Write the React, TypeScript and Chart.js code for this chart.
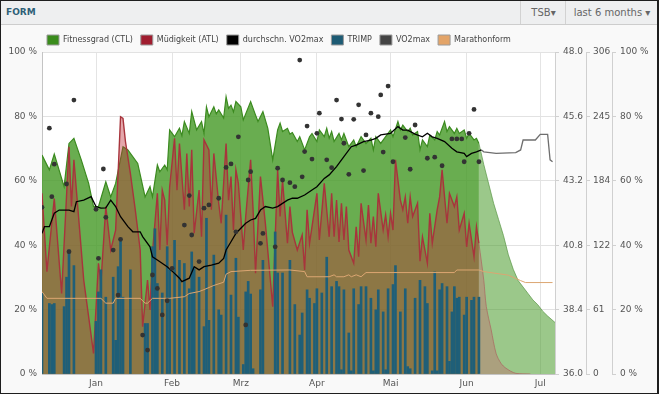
import React, { useEffect, useRef } from 'react';
import { Chart, registerables } from 'chart.js';

Chart.register(...registerables);

// x values are day offsets from 10 Dec (day 0)
const xMaxDay = 209;
const monthTickDays = [22, 53, 81, 112, 142, 173, 203];
const monthLabels = ['Jan', 'Feb', 'Mrz', 'Apr', 'Mai', 'Jun', 'Jul'];
const percentTicks = [0, 20, 40, 60, 80, 100];
const vo2Ticks = [36.0, 38.4, 40.8, 43.2, 45.6, 48.0];
const trimpTicks = [0, 61.2, 122.4, 183.6, 244.8, 306];

const legendNames = ['Fitnessgrad (CTL)', 'Müdigkeit (ATL)', 'durchschn. VO2max', 'TRIMP', 'VO2max', 'Marathonform'];
const legendColors = ['#3a8c1c', '#a01d2f', '#000000', '#1d5b74', '#444444', '#e3a468'];

const ctlDays = [0,3,5,9,11,13,16,19,21,23,26,28,30,33,35,39,42,44,45,47,48,50,51,52,54,56,57,58,60,61,63,65,66,67,68,70,71,72,74,75,76,77,78,79,81,82,85,87,88,90,92,94,96,97,98,100,101,102,104,105,107,109,110,112,113,115,116,117,118,119,121,122,123,125,127,128,130,132,134,135,136,138,140,142,143,145,146,147,149,150,151,153,154,155,157,158,160,161,162,164,165,166,168,169,170,172,173,174,176,177,178];
const ctlValues = [68,63.4,68.3,58.2,71.6,73.2,66.5,59.2,52,52,59.7,55,59.2,70.6,69.6,65.4,55,58.2,55,64.9,62.8,64.9,63.4,75.8,73.7,76.3,74,78.4,74.7,81.5,75.8,78.4,74.7,83,79.9,83,80.8,82,79.5,86.1,82.5,83.5,81.4,84.6,83,78.9,84.6,80.4,78.4,81.5,76.3,66.5,75.8,77.9,75.3,76.3,74.5,75,72.2,73.7,69.6,73.7,74.7,72.2,75.8,73.7,76.3,73.2,75.3,72.2,74.7,72.7,74.7,70.6,72.7,70.6,73.7,71.6,73.2,69.6,73.7,71.6,73.7,75.8,73.7,78.4,75.8,77.3,75.3,76.3,74.2,75.3,69.6,72.7,70.6,74.2,72.7,75.3,74.2,78.4,75.3,76.8,74.7,76.3,74.7,75.8,73.2,74.7,72.7,73.2,71.6];

const ctlProjDays = [178,180,182,184,186,188,190,192,194,196,198,200,202,204,206,209];
const ctlProjValues = [71.6,65,59,53,48,43,37,32.5,29,27,25,23,21.5,19.5,18,16];

const atlDays = [0,2,5,8,11,12,13,17,21,23,24,26,28,30,32,33,34,36,38,40,41,43,44,45,47,48,49,50,51,52,54,55,56,58,59,60,61,62,64,65,66,68,69,70,72,73,75,76,77,78,79,80,82,83,85,86,87,89,91,94,96,97,98,100,101,102,104,106,107,108,109,112,113,115,117,118,119,120,121,122,123,124,125,127,128,129,130,132,133,134,135,136,137,139,140,141,142,143,144,146,147,148,149,150,151,153,154,155,157,158,159,161,162,163,165,166,168,169,170,172,173,174,176,177,178];
const atlValues = [56.1,31.8,54.5,25,70.6,52,66.5,29.2,6.4,34.4,28.2,52,38.5,44.7,79.9,79.4,72.2,62.3,51,38.5,14.7,29.2,19.9,37.5,56.1,38.5,57.1,54,40,58,73.2,57.1,71.6,51,68.5,52,69.6,43.7,57.1,42.6,72.7,69.6,51,68.5,53,46.8,71.6,54,61.3,44.7,63.4,59.2,38.5,48.9,66.5,51,31.3,61.3,46.8,20.9,63.4,48.9,60.2,40.6,52,44,38.5,43.2,32.3,51,40.6,56.1,41.6,59.2,42.6,56.1,42.6,54,41,53,41.6,52,38.5,34.4,45.7,36.4,53,41.6,52.5,40.6,48.9,39.5,56.1,44.7,49.4,42.6,49.9,44.7,66.5,54,51,55,46.8,55,48.9,53,35,42.6,34.4,49.9,40.6,51,55,63.4,46.8,56.1,52,55,44.7,49.9,39.5,46.8,36.4,45.7,40.6];

const atlProjDays = [178,180,181,183,185,187,189,193,199];
const atlProjValues = [40.6,29,21,13.7,6.4,3.3,1.8,0.2,0];

const vo2AvgDays = [0,1,3,5,7,11,13,14,17,20,22,24,26,28,30,32,35,37,40,41,44,45,47,51,54,56,57,60,62,64,66,69,72,74,75,77,79,81,83,85,87,89,91,94,96,98,100,102,104,107,110,112,115,117,120,123,126,128,131,134,136,138,142,145,147,149,152,155,157,159,161,164,167,169,172,173,175,177,179];
const vo2AvgValues = [41.24,41.49,41.49,41.99,42.11,42.11,42.05,42.42,42.48,42.61,42.24,42.18,42.19,42.48,42.24,41.86,41.49,41.30,41.30,41.12,40.74,40.37,40.25,40.0,39.75,39.57,39.44,39.57,40.0,39.88,40.0,40.06,40.13,40.31,40.62,40.93,41.24,41.43,41.62,41.74,41.80,42.11,42.24,42.18,42.24,42.36,42.48,42.55,42.55,42.67,42.86,42.98,43.29,43.42,43.73,44.10,44.47,44.53,44.66,44.72,44.78,44.91,44.97,45.22,45.09,45.09,44.94,44.84,44.97,44.84,44.78,44.66,44.41,44.28,44.22,44.10,44.22,44.28,44.35];

const vo2ProjDays = [179,180,185,193,195,196,201,203,206,207,208];
const vo2ProjValues = [44.35,44.28,44.22,44.25,44.35,44.72,44.72,44.93,44.93,43.98,43.91];

const vo2Days = [0,3,4,5,10,11,13,22,23,25,26,29,31,32,41,43,45,47,49,51,53,58,60,61,64,66,68,72,75,77,79,80,83,84,85,89,90,95,96,98,101,103,105,106,107,108,110,112,113,116,118,120,122,123,125,127,129,131,132,134,137,138,139,141,143,148,150,152,157,160,163,167,169,171,172,174,176,178];
const vo2Values = [42.21,45.16,42.61,43.82,43.08,40.56,46.21,42.14,40.31,43.64,41.84,40.62,38.94,41.02,37.45,36.89,39.69,39.19,38.20,38.73,39.94,41.55,42.65,41.18,40.19,42.18,42.30,42.55,43.70,43.83,41.30,44.84,37.83,43.23,43.54,40.87,41.24,40.74,43.67,43.23,43.13,42.98,47.70,43.35,44.29,45.24,44.01,44.97,45.72,43.98,43.69,46.21,45.50,44.60,43.44,45.49,46.03,43.58,44.91,45.72,45.59,46.40,44.27,46.73,43.91,44.81,43.63,45.28,44.04,44.08,43.76,44.76,44.76,44.76,43.91,44.97,45.86,43.91];

const trimpDays = [0,3,4,5,9,10,11,13,22,23,24,26,29,30,31,32,33,36,42,43,45,46,47,49,51,52,54,56,58,60,61,62,64,66,67,68,70,72,73,75,77,79,80,82,83,84,85,86,89,90,95,96,98,101,103,105,106,108,109,111,112,114,116,118,120,121,122,123,125,126,127,129,130,132,134,135,136,137,139,140,141,143,144,146,148,149,150,152,154,156,157,159,160,161,162,163,165,166,167,168,169,170,172,173,175,176,178];
const trimpValues = [77,67,66,67,64,92,118,103,50,78,99,73,92,32,102,129,73,99,48,48,121,138,86,77,121,99,127,108,105,81,116,100,92,45,148,51,113,61,56,151,75,110,54,9,78,88,76,5,80,108,135,96,96,108,66,37,58,80,72,67,81,77,111,83,88,83,4,80,39,3,81,66,83,83,72,3,61,80,59,4,81,85,103,59,81,7,5,72,89,83,67,3,97,3,80,86,83,12,59,83,72,73,56,73,70,73,73];

const marathonDays = [0,2,24,26,29,30,40,42,43,45,52,58,60,64,66,70,74,75,77,85,101,107,108,117,119,120,123,125,126,128,130,132,168,169,178,180,190,195,197,208];
const marathonValues = [25.6,23.5,23.5,22,22,23.5,23.5,22,22,23.5,23.5,24,25,25.6,26.2,27.5,28.5,31,31.8,32.2,32.3,31.8,30.2,30.2,30.8,30.2,30.2,30.8,30.2,30.8,30.2,31.5,31.5,32.3,32.3,31.8,30.7,29,28.4,28.4];

const pts = (xs: number[], ys: number[]) => xs.map((x, i) => ({ x, y: ys[i] }));

const FONT = 'DejaVu Sans';

const tweaks = {
  id: 'tweaks',
  beforeInit(chart: any) {
    const lg = chart.legend;
    if (lg) {
      const orig = lg.fit.bind(lg);
      lg.fit = function () {
        orig();
        this.height = 27;
      };
    }
  },
  afterLayout(chart: any) {
    if (chart.legend) {
      chart.legend.left = 38;
      chart.legend.top = 2;
    }
  },
  beforeDraw(chart: any) {
    const { ctx, chartArea } = chart;
    ctx.save();
    ctx.fillStyle = '#ffffff';
    ctx.fillRect(chartArea.left, chartArea.top, chartArea.right - chartArea.left, chartArea.bottom - chartArea.top);
    ctx.restore();
  },
};

export default function App() {
  const ref = useRef<HTMLCanvasElement>(null);

  useEffect(() => {
    document.body.style.margin = '0';
    Chart.defaults.font.family = FONT;
    const tickFont = { family: FONT, size: 9 };
    const chart = new Chart(ref.current as HTMLCanvasElement, {
      type: 'line',
      data: {
        datasets: [
          {
            type: 'line',
            label: 'Fitnessgrad (CTL)',
            data: pts(ctlDays, ctlValues),
            yAxisID: 'y',
            borderColor: '#3b8a1f',
            borderWidth: 1.2,
            backgroundColor: 'rgba(72,155,42,0.82)',
            fill: 'origin',
            pointRadius: 0,
            tension: 0,
            order: 6,
          },
          {
            type: 'line',
            label: '',
            data: pts(ctlProjDays, ctlProjValues),
            yAxisID: 'y',
            borderColor: 'rgba(90,150,70,0.7)',
            borderWidth: 1,
            backgroundColor: 'rgba(72,155,42,0.55)',
            fill: 'origin',
            pointRadius: 0,
            tension: 0,
            order: 7,
          },
          {
            type: 'line',
            label: 'Müdigkeit (ATL)',
            data: pts(atlDays, atlValues),
            yAxisID: 'y',
            borderColor: '#a8343c',
            borderWidth: 1.4,
            backgroundColor: 'rgba(190,45,55,0.42)',
            fill: 'origin',
            pointRadius: 0,
            tension: 0,
            order: 5,
          },
          {
            type: 'line',
            label: '',
            data: pts(atlProjDays, atlProjValues),
            yAxisID: 'y',
            borderColor: 'rgba(170,110,100,0.8)',
            borderWidth: 1,
            backgroundColor: 'rgba(190,110,110,0.45)',
            fill: 'origin',
            pointRadius: 0,
            tension: 0.3,
            order: 5,
          },
          {
            type: 'bar',
            label: 'TRIMP',
            data: pts(trimpDays, trimpValues),
            yAxisID: 'y2',
            backgroundColor: '#1f5f78',
            barThickness: 2,
            order: 4,
          },
          {
            type: 'line',
            label: 'Marathonform',
            data: pts(marathonDays, marathonValues),
            yAxisID: 'y',
            borderColor: '#dca672',
            borderWidth: 1,
            fill: false,
            pointRadius: 0,
            tension: 0,
            order: 3,
          },
          {
            type: 'line',
            label: 'durchschn. VO2max',
            data: pts(vo2AvgDays, vo2AvgValues),
            yAxisID: 'y1',
            borderColor: '#000000',
            borderWidth: 1.3,
            fill: false,
            pointRadius: 0,
            tension: 0,
            order: 2,
          },
          {
            type: 'line',
            label: '',
            data: pts(vo2ProjDays, vo2ProjValues),
            yAxisID: 'y1',
            borderColor: '#6e6e6e',
            borderWidth: 1.3,
            fill: false,
            pointRadius: 0,
            tension: 0,
            order: 2,
          },
          {
            type: 'line',
            label: 'VO2max',
            data: pts(vo2Days, vo2Values),
            yAxisID: 'y1',
            showLine: false,
            pointRadius: 2.4,
            pointBorderWidth: 0,
            pointBackgroundColor: '#333333',
            order: 1,
          },
        ],
      } as any,
      options: {
        animation: false,
        responsive: false,
        maintainAspectRatio: false,
        events: [],
        layout: { padding: 0 },
        plugins: {
          tooltip: { enabled: false },
          legend: {
            display: true,
            position: 'top',
            align: 'start',
            onClick: () => {},
            labels: {
              boxWidth: 12,
              boxHeight: 10,
              padding: 8,
              color: '#444',
              font: { family: FONT, size: 8 },
              generateLabels: () =>
                legendNames.map((text, i) => ({
                  text,
                  fillStyle: legendColors[i],
                  strokeStyle: '#9a9a9a',
                  lineWidth: 1,
                  hidden: false,
                  datasetIndex: i,
                  fontColor: '#444',
                })),
            },
          },
        },
        scales: {
          x: {
            type: 'linear',
            min: 0,
            max: xMaxDay,
            offset: false,
            afterBuildTicks: (s: any) => {
              s.ticks = monthTickDays.map((v) => ({ value: v }));
            },
            afterFit: (s: any) => {
              s.height = 19;
            },
            ticks: {
              autoSkip: false,
              maxRotation: 0,
              padding: 4,
              color: '#555',
              font: tickFont,
              callback: (_v: any, i: number) => monthLabels[i],
            },
            grid: { color: '#e4e4e4', drawTicks: false, offset: false },
            border: { color: '#c4c4c4' },
          },
          y: {
            type: 'linear',
            position: 'left',
            min: 0,
            max: 100,
            afterBuildTicks: (s: any) => {
              s.ticks = percentTicks.map((v) => ({ value: v }));
            },
            afterFit: (s: any) => {
              s.width = 41;
            },
            ticks: { padding: 5, color: '#555', font: tickFont, callback: (v: any) => `${v} %` },
            grid: { color: '#e2e2e2', drawTicks: false },
            border: { color: '#c4c4c4' },
          },
          y1: {
            type: 'linear',
            position: 'right',
            min: 36,
            max: 48,
            afterBuildTicks: (s: any) => {
              s.ticks = vo2Ticks.map((v) => ({ value: v }));
            },
            afterFit: (s: any) => {
              s.width = 31;
            },
            ticks: { padding: 4, color: '#555', font: tickFont, callback: (v: any) => Number(v).toFixed(1) },
            grid: { drawOnChartArea: false, color: '#d0d0d0', tickLength: 4 },
            border: { color: '#d0d0d0' },
          },
          y2: {
            type: 'linear',
            position: 'right',
            min: 0,
            max: 306,
            afterBuildTicks: (s: any) => {
              s.ticks = trimpTicks.map((v) => ({ value: v }));
            },
            afterFit: (s: any) => {
              s.width = 26;
            },
            ticks: { padding: 3, color: '#555', font: tickFont, callback: (v: any) => String(Math.round(Number(v))) },
            grid: { drawOnChartArea: false, color: '#d0d0d0', tickLength: 4 },
            border: { color: '#d0d0d0' },
          },
          y3: {
            type: 'linear',
            position: 'right',
            min: 0,
            max: 100,
            afterBuildTicks: (s: any) => {
              s.ticks = percentTicks.map((v) => ({ value: v }));
            },
            afterFit: (s: any) => {
              s.width = 45;
            },
            ticks: { padding: 4, color: '#555', font: tickFont, callback: (v: any) => `${v} %` },
            grid: { drawOnChartArea: false, color: '#d0d0d0', tickLength: 4 },
            border: { color: '#d0d0d0' },
          },
        },
      } as any,
      plugins: [tweaks as any],
    });
    return () => chart.destroy();
  }, []);

  return (
    <div
      style={{
        position: 'relative',
        width: 659,
        height: 394,
        boxSizing: 'border-box',
        border: '1px solid #1e1e1e',
        borderRightWidth: 2,
        background: '#f9f9f9',
        fontFamily: FONT,
        overflow: 'hidden',
      }}
    >
      <div
        style={{
          position: 'absolute',
          left: 0,
          top: 0,
          width: 656,
          height: 23,
          background: '#eeeff0',
          borderBottom: '1px solid #cdcdcd',
        }}
      >
        <span style={{ position: 'absolute', left: 5, top: 6, fontSize: 9, fontWeight: 'bold', color: '#2e5f77' }}>FORM</span>
        <div
          style={{
            position: 'absolute',
            left: 519,
            top: 0,
            width: 45,
            height: 23,
            borderLeft: '1px solid #d2d2d2',
            fontSize: 10,
            color: '#666',
            lineHeight: '23px',
            textAlign: 'center',
          }}
        >
          TSB▾
        </div>
        <div
          style={{
            position: 'absolute',
            left: 564,
            top: 0,
            width: 92,
            height: 23,
            borderLeft: '1px solid #d2d2d2',
            fontSize: 10,
            color: '#666',
            lineHeight: '23px',
            textAlign: 'center',
          }}
        >
          last 6 months ▾
        </div>
      </div>
      <canvas ref={ref} width={656} height={368} style={{ position: 'absolute', left: 0, top: 24, width: 656, height: 368 }} />
    </div>
  );
}
